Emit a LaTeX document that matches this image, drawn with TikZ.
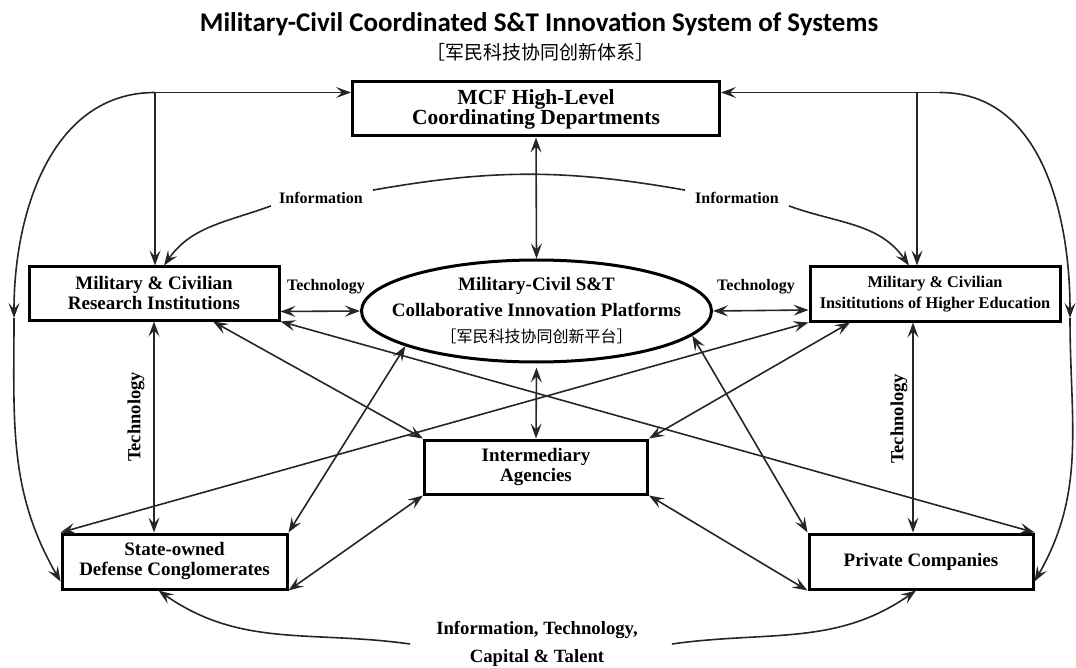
\documentclass[tikz,border=0pt]{standalone}
\usepackage{fontspec}
\setmainfont{Liberation Serif}
\newfontfamily\titlefont{Carlito}
\newfontfamily\cjk{Noto Sans CJK SC}
\usetikzlibrary{arrows.meta,shapes.geometric}

\begin{document}
\begin{tikzpicture}[x=1pt,y=-1pt,
    >={Stealth[length=15pt,width=11pt,inset=6pt]},
    box/.style={draw,line width=3pt,align=center,inner sep=0pt,minimum height=54pt,
        font=\bfseries\fontsize{19}{20}\selectfont},
    tag/.style={inner sep=2pt,font=\bfseries\fontsize{16}{18}\selectfont},
    link/.style={line width=1.6pt,draw=black!85,->}]
    \useasboundingbox (0,0) rectangle (1076,668);
        \node[font=\titlefont\bfseries\fontsize{27}{30}\selectfont] (title) at (539,24) {Military-Civil Coordinated S\&T Innovation System of Systems};
        \node[font=\cjk\fontsize{19}{22}\selectfont] (subtitle) at (540,52.5) {［军民科技协同创新体系］};
        \node[box,minimum width=367pt,font=\bfseries\fontsize{21.5}{20}\selectfont] (mcf) at (536,109) {MCF High-Level\\Coordinating Departments};
        \node[box,minimum width=250pt,minimum height=53pt] (res) at (154,293.5) {Military \& Civilian\\Research Institutions};
        \node[box,minimum width=250pt,font=\bfseries\fontsize{16.3}{21}\selectfont] (edu) at (935,294) {Military \& Civilian\\Insititutions of Higher Education};
        \node[draw,ellipse,line width=3pt,inner xsep=-25pt,inner ysep=0pt,minimum width=350pt,minimum height=102pt,align=center,
            font=\bfseries\fontsize{19}{26}\selectfont] (plat) at (536.5,311) {Military-Civil S\&T\\Collaborative Innovation Platforms\\{\cjk\mdseries\fontsize{16}{26}\selectfont ［军民科技协同创新平台］}};
        \node[box,minimum width=223pt] (inter) at (536,467) {Intermediary\\Agencies};
        \node[box,minimum width=225pt,minimum height=55pt] (soe) at (174.5,561.5) {State-owned\\Defense Conglomerates};
        \node[box,minimum width=224pt,minimum height=55pt] (priv) at (921,561.5) {Private Companies};
        \node[tag] (infoL) at (321,198) {Information};
        \node[tag] (infoR) at (737,198) {Information};
        \node[tag] (techL) at (326,287) {Technology};
        \node[tag] (techR) at (756,287) {Technology};
        \node[tag,rotate=90,font=\bfseries\fontsize{18.5}{20}\selectfont] (techSL) at (136,417) {Technology};
        \node[tag,rotate=90,font=\bfseries\fontsize{18.5}{20}\selectfont] (techSR) at (899,419) {Technology};
        \node[tag,align=center,font=\bfseries\fontsize{18.7}{28}\selectfont] (flow) at (537,644) {Information, Technology,\\Capital \& Talent};
        \coordinate (jl) at (155,92.5);
        \coordinate (jr) at (917,92.5);
        \coordinate (jr2) at (940,92.5);
        \coordinate (cl) at (14,318);
        \coordinate (cr) at (1070,318);
        \draw[link] (jl) -- (mcf.west |- jl);
        \draw[link] (jl) -- (res.north -| jl);
        \draw[link] (jl) to[out=180,in=90] (cl);
        \draw[link] (cl) to[out=-90,in=120] ([yshift=9pt]soe.south west);
        \draw[link] (jr2) -- (mcf.east |- jr2);
        \draw[link] (jr) -- (edu.north -| jr);
        \draw[link] (jr2) to[out=0,in=90] (cr);
        \draw[link] (cr) to[out=-90,in=60] ([yshift=9pt]priv.south east);
        \draw[link,-] ([xshift=8pt]infoL.north east) to[bend left=10] ([xshift=-8pt]infoR.north west);
        \draw[link] ([xshift=-6pt]infoL.south west) to[out=200,in=55] ([xshift=10pt]res.north);
        \draw[link] ([xshift=8pt]infoR.south east) to[out=-20,in=125] ([xshift=-26pt]edu.north);
        \draw[link,<->] (mcf.south) -- (plat.north);
        \draw[link,<->] ([yshift=-18pt]res.east) -- (plat.west);
        \draw[link,<->] (plat.east) -- ([yshift=-16pt]edu.west);
        \draw[link,<->] (res.south) -- (res.south |- soe.north);
        \draw[link,<->] ([xshift=-22pt]edu.south) -- ([xshift=-8pt]priv.north);
        \draw[link,<->,shorten <=4pt] (plat.south) -- (inter.north);
        \draw[link,<->] ([xshift=59pt]res.south) -- (inter.north west);
        \draw[link,<->] (res.south east) -- (priv.north east);
        \draw[link,<->] (soe.north west) -- (edu.south west);
        \draw[link,<->] (soe.north east) -- (plat.195);
        \draw[link,<->] (plat.-9) -- (priv.north west);
        \draw[link,<->] (inter.north east) -- ([xshift=-85pt]edu.south);
        \draw[link,<->] (soe.south east) -- (inter.south west);
        \draw[link,<->] (inter.south east) -- (priv.south west);
        \draw[link] ([xshift=-24pt]flow.west) to[out=172,in=-35] ([xshift=-16pt]soe.south);
        \draw[link] ([xshift=32pt]flow.east) to[out=8,in=-145] ([xshift=-5pt]priv.south);
    \end{tikzpicture}
\end{document}
